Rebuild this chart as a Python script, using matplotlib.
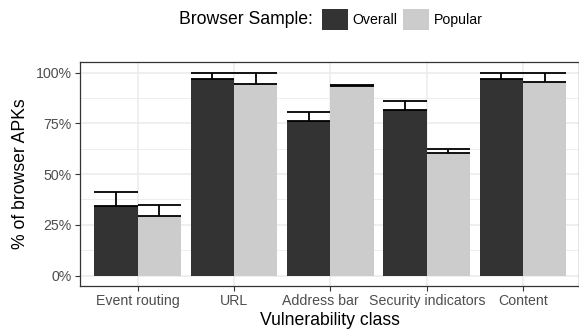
import numpy as np
import matplotlib
matplotlib.use("Agg")
import matplotlib.pyplot as plt
import matplotlib.transforms as mtransforms
from matplotlib.patches import Patch
from matplotlib.ticker import FixedLocator, PercentFormatter

plt.rcParams['font.family'] = ['Liberation Sans', 'DejaVu Sans']

classes = ['Event routing', 'URL', 'Address bar', 'Security indicators', 'Content']
samples = ['Overall', 'Popular']
overall = [34.5, 96.7, 76.0, 81.6, 96.9]
overall_hi = [41.2, 100.0, 80.7, 86.1, 100.0]
popular = [29.1, 94.5, 93.3, 60.5, 95.4]
popular_hi = [35.0, 100.0, 94.0, 62.4, 100.0]

colors = {'Overall': '#333333', 'Popular': '#CCCCCC'}
grey30 = '#4D4D4D'
grey20 = '#333333'
grid = '#EBEBEB'
base = 12.7
small = 10.2
W, H = 579, 330

fig = plt.figure(figsize=(W / 100, H / 100), dpi=100)
ax = fig.add_axes([80 / W, (H - 285.7) / H, 499 / W, (285.7 - 62) / H])

x = np.arange(1, len(classes) + 1)
bw = 0.45
for off, vals, hi, name in [(-bw / 2, overall, overall_hi, 'Overall'),
                            (bw / 2, popular, popular_hi, 'Popular')]:
    xs = x + off
    ax.bar(xs, vals, width=bw, color=colors[name], zorder=2)
    # error bars run from the estimate up to the upper bound, caps span the bar
    ax.vlines(xs, vals, hi, color='black', lw=1.3, zorder=3)
    ax.hlines(vals, xs - bw / 2, xs + bw / 2, color='black', lw=1.3, zorder=3)
    ax.hlines(hi, xs - bw / 2, xs + bw / 2, color='black', lw=1.3, zorder=3)

ax.set_xlim(0.4, 5.58)
ax.set_ylim(-5, 105.2)
ax.set_xticks(x)
ax.set_xticklabels(classes)
ax.set_yticks([0, 25, 50, 75, 100])
ax.yaxis.set_major_formatter(PercentFormatter(decimals=0))
ax.yaxis.set_minor_locator(FixedLocator([12.5, 37.5, 62.5, 87.5]))

ax.grid(True, which='major', color=grid, lw=1.1, zorder=0)
ax.grid(True, which='minor', axis='y', color=grid, lw=0.6, zorder=0)
ax.set_axisbelow(True)

ax.tick_params(axis='both', which='major', length=3.5, width=0.8, color=grey20,
               labelsize=small, labelcolor=grey30, pad=2.5)
ax.tick_params(axis='y', which='minor', length=0)
for s in ax.spines.values():
    s.set_color(grey20)
    s.set_linewidth(0.9)

# nudge "Address bar" left so it clears "Security indicators"
lbl = ax.get_xticklabels()[2]
lbl.set_transform(lbl.get_transform() +
                  mtransforms.ScaledTranslation(-0.10, 0, fig.dpi_scale_trans))

ax.set_xlabel('Vulnerability class', fontsize=base, labelpad=3)
ax.set_ylabel('% of browser APKs', fontsize=base, labelpad=5)

# legend across the top, title inline on the left
fig.text(313 / W, 1 - 19.7 / H, 'Browser Sample:', fontsize=base,
         ha='right', va='center')
handles = [Patch(facecolor=colors[s], edgecolor='none', label=s) for s in samples]
fig.legend(handles=handles, loc='center left', ncol=2, frameon=False,
           bbox_to_anchor=(321.7 / W, 1 - 19.7 / H), fontsize=small,
           handlelength=1.85, handleheight=1.85, handletextpad=0.33,
           columnspacing=0.35, borderpad=0, borderaxespad=0)

fig.savefig('out.png', dpi=100)
